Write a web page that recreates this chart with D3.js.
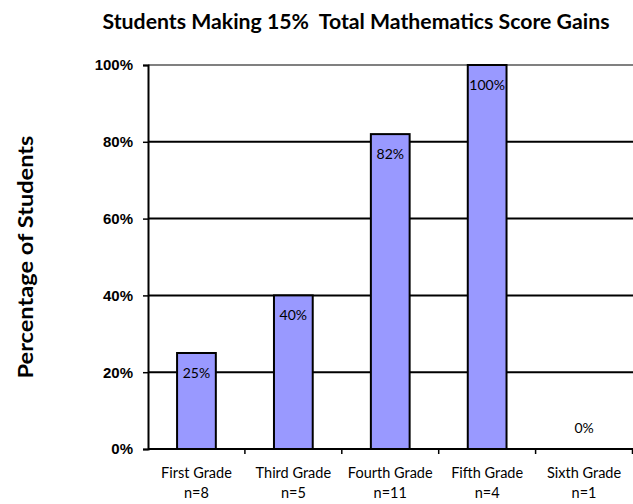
<!DOCTYPE html>
<html>
<head>
<meta charset="utf-8">
<script src="https://cdn.jsdelivr.net/npm/d3@7"></script>
<style>
  body { margin: 0; background: #fff; }
  svg { display: block; font-family: Lato, "Open Sans", sans-serif; }
</style>
</head>
<body>
<svg></svg>
<script>
const grades = ["First Grade", "Third Grade", "Fourth Grade", "Fifth Grade", "Sixth Grade"]
const counts = ["n=8", "n=5", "n=11", "n=4", "n=1"]
const percents = [25, 40, 82, 100, 0]
const yTicks = [0, 20, 40, 60, 80, 100]

const width = 633, height = 504
const margin = {top: 65, right: 0, bottom: 55, left: 148}

const svg = d3.select("svg")
  .attr("width", width)
  .attr("height", height)

const x = d3.scaleBand()
  .domain(grades)
  .range([margin.left, width - 0.5])

const y = d3.scaleLinear()
  .domain([0, 100])
  .range([height - margin.bottom, margin.top])

// gridlines
svg.append("g")
  .selectAll("line")
  .data(yTicks.filter(d => d > 0))
  .enter()
  .append("line")
  .attr("x1", margin.left)
  .attr("x2", width)
  .attr("y1", d => y(d))
  .attr("y2", d => y(d))
  .attr("stroke", d => d == 100 ? "#808080" : "#000")
  .attr("stroke-width", 2)

// bars
const barW = x.bandwidth() * 0.4
svg.append("g")
  .selectAll("rect")
  .data(percents.map((v, i) => ({grade: grades[i], v: v})).filter(d => d.v > 0))
  .enter()
  .append("rect")
  .attr("x", d => x(d.grade) + (x.bandwidth() - barW) / 2)
  .attr("y", d => y(d.v))
  .attr("width", barW)
  .attr("height", d => y(0) - y(d.v))
  .attr("fill", "#9999ff")
  .attr("stroke", "#000")
  .attr("stroke-width", 2)

// value labels
svg.append("g")
  .selectAll("text")
  .data(percents)
  .enter()
  .append("text")
  .attr("x", (d, i) => x(grades[i]) + x.bandwidth() / 2)
  .attr("y", d => d > 0 ? y(d) + 25 : y(0) - 16)
  .attr("text-anchor", "middle")
  .style("font-size", "14px")
  .style("fill", "#000")
  .text(d => d + "%")

// y axis
const yAxis = svg.append("g")
  .attr("transform", `translate(${margin.left},0)`)
  .call(d3.axisLeft(y).tickValues(yTicks).tickFormat(d => d + "%").tickSize(5).tickPadding(10))
yAxis.select(".domain").attr("stroke", "#000").attr("stroke-width", 2)
yAxis.selectAll(".tick line").attr("stroke", "#000").attr("stroke-width", 1.5)
yAxis.selectAll("text")
  .style("font-size", "15px")
  .style("font-weight", "bold")
  .style("fill", "#000")

// x axis
const xAxisG = svg.append("g")
  .attr("transform", `translate(0,${y(0)})`)
xAxisG.append("line")
  .attr("x1", margin.left)
  .attr("x2", width)
  .attr("stroke", "#000")
  .attr("stroke-width", 2)
xAxisG.selectAll(".xtick")
  .data(grades)
  .enter()
  .append("line")
  .attr("x1", d => x(d) + x.bandwidth())
  .attr("x2", d => x(d) + x.bandwidth())
  .attr("y1", 0)
  .attr("y2", 5)
  .attr("stroke", "#000")
  .attr("stroke-width", 1.5)

svg.append("g")
  .selectAll("text")
  .data(grades)
  .enter()
  .append("text")
  .attr("x", d => x(d) + x.bandwidth() / 2)
  .attr("y", 478)
  .attr("text-anchor", "middle")
  .style("font-size", "14.5px")
  .text(d => d)

svg.append("g")
  .selectAll("text")
  .data(counts)
  .enter()
  .append("text")
  .attr("x", (d, i) => x(grades[i]) + x.bandwidth() / 2)
  .attr("y", 498)
  .attr("text-anchor", "middle")
  .style("font-size", "14.5px")
  .text(d => d)

// title
svg.append("text")
  .attr("x", 356)
  .attr("y", 29)
  .attr("text-anchor", "middle")
  .attr("textLength", 507)
  .attr("lengthAdjust", "spacingAndGlyphs")
  .style("font-size", "20px")
  .style("font-weight", "bold")
  .style("white-space", "pre")
  .text("Students Making 15%  Total Mathematics Score Gains")

// y label
svg.append("text")
  .attr("transform", "translate(33,257) rotate(-90)")
  .attr("text-anchor", "middle")
  .attr("textLength", 243)
  .attr("lengthAdjust", "spacingAndGlyphs")
  .style("font-size", "21px")
  .style("font-weight", "bold")
  .text("Percentage of Students")
</script>
</body>
</html>
